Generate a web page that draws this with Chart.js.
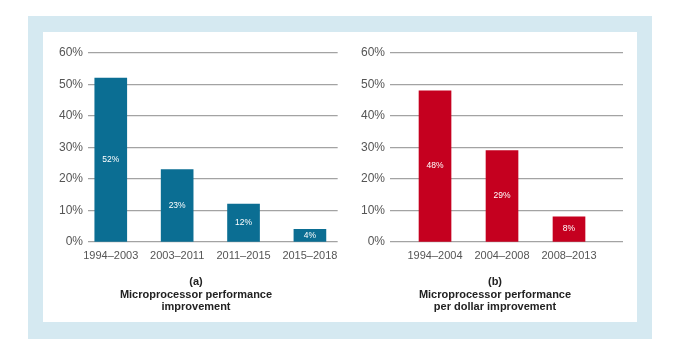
<!DOCTYPE html>
<html>
<head>
  <title>Microprocessor performance</title>
  <script src="https://cdn.jsdelivr.net/npm/chart.js"></script>
  <style>
    body { margin: 0; width: 676px; height: 345px; background: #fff; position: relative; overflow: hidden;
           font-family: "Liberation Sans", Arial, sans-serif; }
    .frame { position: absolute; left: 28px; top: 16px; width: 624px; height: 323px; background: #d5e9f1; }
    .panel { position: absolute; left: 43px; top: 32px; width: 594px; height: 290px; background: #fff; }
    .box { position: absolute; }
    .caption { position: absolute; width: 300px; text-align: center; font-weight: bold;
               font-size: 11px; line-height: 12.5px; color: #222; }
  </style>
</head>
<body>
  <div class="frame"></div>
  <div class="panel"></div>

  <div class="box" style="left:43px; top:32px; width:302px; height:250px;"><canvas id="chartA"></canvas></div>
  <div class="box" style="left:345px; top:32px; width:283px; height:250px;"><canvas id="chartB"></canvas></div>

  <div class="caption" style="left:46px; top:275px;">(a)<br>Microprocessor performance<br>improvement</div>
  <div class="caption" style="left:345px; top:275px;">(b)<br>Microprocessor performance<br>per dollar improvement</div>

  <script>
    // panel (a)
    const periodsA = ["1994\u20132003", "2003\u20132011", "2011\u20132015", "2015\u20132018"];
    const perfA = [52, 23, 12, 4];

    // panel (b)
    const periodsB = ["1994\u20132004", "2004\u20132008", "2008\u20132013"];
    const perfB = [48, 29, 8];

    const yTicks = [0, 10, 20, 30, 40, 50, 60];

    Chart.defaults.font.family = "'Liberation Sans', Arial, sans-serif";
    Chart.defaults.color = "#555";

    // white % labels in the middle of each bar
    const barLabels = {
      id: "barLabels",
      afterDatasetsDraw(chart) {
        const ctx = chart.ctx;
        const values = chart.data.datasets[0].data;
        ctx.save();
        ctx.fillStyle = "#fff";
        ctx.font = "8.5px 'Liberation Sans', Arial, sans-serif";
        ctx.textAlign = "center";
        ctx.textBaseline = "middle";
        chart.getDatasetMeta(0).data.forEach((bar, i) => {
          ctx.fillText(values[i].y + "%", bar.x, (bar.y + bar.base) / 2);
        });
        ctx.restore();
      }
    };

    function makeChart(id, periods, values, color, xMin, xMax) {
      return new Chart(document.getElementById(id), {
        type: "bar",
        data: {
          datasets: [{
            data: values.map((v, i) => ({ x: i, y: v })),
            backgroundColor: color,
            barThickness: 32
          }]
        },
        options: {
          responsive: true,
          maintainAspectRatio: false,
          animation: false,
          layout: { padding: { top: 21, right: 5, left: 0, bottom: 0 } },
          plugins: { legend: { display: false }, tooltip: { enabled: false } },
          scales: {
            x: {
              type: "linear",
              offset: false,
              min: xMin,
              max: xMax,
              afterBuildTicks: s => { s.ticks = periods.map((p, i) => ({ value: i })); },
              afterFit: s => { s.height = 40; },
              grid: { display: false, drawTicks: false },
              border: { display: false },
              ticks: {
                autoSkip: false,
                maxRotation: 0,
                padding: 7,
                font: { size: 11 },
                color: "#555",
                callback: v => periods[v]
              }
            },
            y: {
              min: 0,
              max: 60,
              afterBuildTicks: s => { s.ticks = yTicks.map(v => ({ value: v })); },
              afterFit: s => { s.width = 45; },
              border: { display: false },
              grid: { color: "#a3a3a3", lineWidth: 1.3, drawTicks: false },
              ticks: {
                padding: 5,
                font: { size: 12 },
                color: "#555",
                callback: v => v + "%"
              }
            }
          }
        },
        plugins: [barLabels]
      });
    }

    makeChart("chartA", periodsA, perfA, "#0b6e93", -0.343, 3.418);
    makeChart("chartB", periodsB, perfB, "#c5001f", -0.672, 2.806);
  </script>
</body>
</html>
